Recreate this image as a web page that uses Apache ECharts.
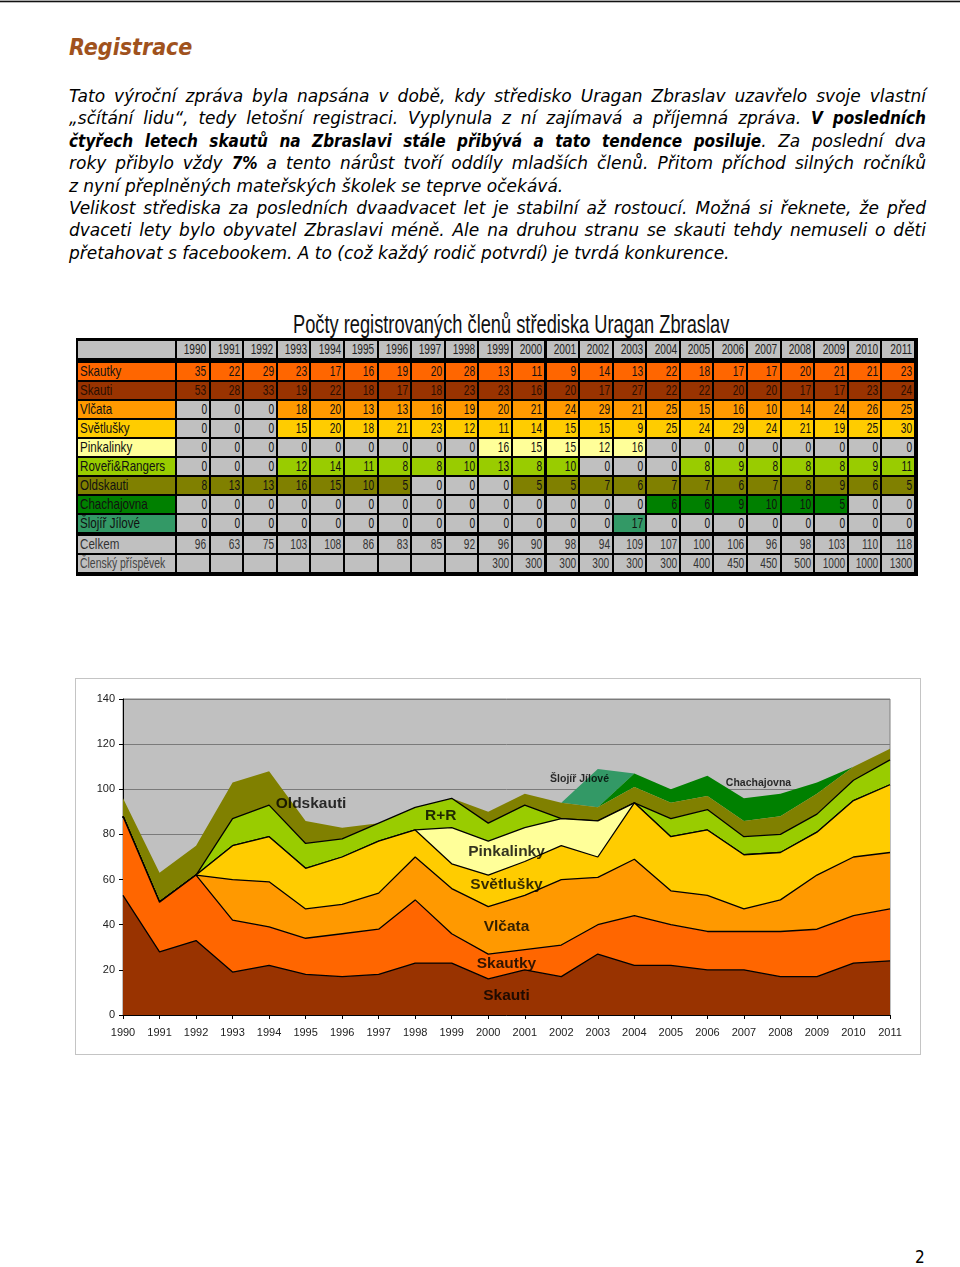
<!DOCTYPE html>
<html><head><meta charset="utf-8">
<script src="https://cdn.jsdelivr.net/npm/echarts@6/dist/echarts.min.js"></script>
<style>
html,body{margin:0;padding:0;}
body{width:960px;height:1267px;position:relative;background:#fff;overflow:hidden;}
.topline{position:absolute;left:0;top:0;width:960px;height:1px;background:#aaa;border-bottom:1px solid #111;}
.topline2{position:absolute;left:0;top:2px;width:960px;height:1px;background:#bbb;}
h1{position:absolute;left:69px;top:31px;margin:0;font:italic bold 23px "DejaVu Sans Condensed","DejaVu Sans",sans-serif;color:#a0521d;line-height:32px;}
.txt{position:absolute;left:69px;top:85px;width:857px;font:italic 17px "DejaVu Sans",sans-serif;color:#000;}
.txt b{font-family:"DejaVu Sans Condensed","DejaVu Sans",sans-serif;font-weight:bold;}
.ln{height:22.4px;line-height:22.4px;text-align:justify;text-align-last:justify;white-space:nowrap;}
.ln.nj{text-align:left;text-align-last:left;}
.ttl{position:absolute;left:293px;top:309px;white-space:nowrap;font:26px/30px "Liberation Sans",Arial,sans-serif;color:#111;transform-origin:0 50%;}
#tbl{position:absolute;left:76px;top:338px;width:842px;height:238px;background:#000;}
#tbl .c{position:absolute;height:17px;font:14.5px/17px "Liberation Sans",Arial,sans-serif;color:#111;overflow:hidden;white-space:nowrap;}
#tbl .c span{display:inline-block;position:absolute;right:2px;top:0;transform:scaleX(0.7);transform-origin:100% 50%;}
#tbl .c.lab span{left:2px;right:auto;transform:scaleX(0.8);transform-origin:0 50%;}
#tbl .c.lab.narrow span{transform:scaleX(0.72);}
#chartbox{position:absolute;left:75px;top:678px;width:846px;height:377px;border:1px solid #c4c4c4;box-sizing:border-box;}
#chart{width:844px;height:375px;}
.pg{position:absolute;left:915px;top:1247px;font:17px "DejaVu Sans Condensed","DejaVu Sans",sans-serif;color:#000;}
</style></head>
<body>
<div class="topline"></div><div class="topline2"></div>
<h1>Registrace</h1>
<div class="txt">
<div class="ln">Tato výroční zpráva byla napsána v době, kdy středisko Uragan Zbraslav uzavřelo svoje vlastní</div>
<div class="ln">„sčítání lidu“, tedy letošní registraci. Vyplynula z ní zajímavá a příjemná zpráva. <b>V posledních</b></div>
<div class="ln"><b>čtyřech letech skautů na Zbraslavi stále přibývá a tato tendence posiluje</b>. Za poslední dva</div>
<div class="ln">roky přibylo vždy <b>7%</b> a tento nárůst tvoří oddíly mladších členů. Přitom příchod silných ročníků</div>
<div class="ln nj">z nyní přeplněných mateřských školek se teprve očekává.</div>
<div class="ln">Velikost střediska za posledních dvaadvacet let je stabilní až rostoucí. Možná si řeknete, že před</div>
<div class="ln">dvaceti lety bylo obyvatel Zbraslavi méně. Ale na druhou stranu se skauti tehdy nemuseli o děti</div>
<div class="ln nj">přetahovat s facebookem. A to (což každý rodič potvrdí) je tvrdá konkurence.</div>
</div>
<div class="ttl" id="ttl">Počty registrovaných členů střediska Uragan Zbraslav</div>
<div id="tbl"></div>
<div id="chartbox"><div id="chart"></div></div>
<div class="pg">2</div>
<script>
// ---- data ----
const years = ['1990','1991','1992','1993','1994','1995','1996','1997','1998','1999','2000','2001','2002','2003','2004','2005','2006','2007','2008','2009','2010','2011'];
const skautky    = [35,22,29,23,17,16,19,20,28,13,11,9,14,13,22,18,17,17,20,21,21,23];
const skauti     = [53,28,33,19,22,18,17,18,23,23,16,20,17,27,22,22,20,20,17,17,23,24];
const vlcata     = [0,0,0,18,20,13,13,16,19,20,21,24,29,21,25,15,16,10,14,24,26,25];
const svetlusky  = [0,0,0,15,20,18,21,23,12,11,14,15,15,9,25,24,29,24,21,19,25,30];
const pinkalinky = [0,0,0,0,0,0,0,0,0,16,15,15,12,16,0,0,0,0,0,0,0,0];
const roveri     = [0,0,0,12,14,11,8,8,10,13,8,10,0,0,0,8,9,8,8,8,9,11];
const oldskauti  = [8,13,13,16,15,10,5,0,0,0,5,5,7,6,7,7,6,7,8,9,6,5];
const chachajovna= [0,0,0,0,0,0,0,0,0,0,0,0,0,0,6,6,9,10,10,5,0,0];
const slojir     = [0,0,0,0,0,0,0,0,0,0,0,0,0,17,0,0,0,0,0,0,0,0];
const celkem     = [96,63,75,103,108,86,83,85,92,96,90,98,94,109,107,100,106,96,98,103,110,118];
const prispevek  = [null,null,null,null,null,null,null,null,null,300,300,300,300,300,300,400,450,450,500,1000,1000,1300];

// chart annotation labels: [text, year, value]
const chartLabels = [
  ['Oldskauti',1995.15,93.5],['R+R',1998.7,88.2],['Pinkalinky',2000.5,72.2],
  ['Světlušky',2000.5,57.6],['Vlčata',2000.5,39],['Skautky',2000.5,22.6],
  ['Skauti',2000.5,8.4],['Šlojíř Jílové',2002.5,104.6],['Chachajovna',2007.4,102.8]
];
const smallLabels = ['Šlojíř Jílové','Chachajovna'];

// ---- styles ----
const C = {skautky:'#ff6600',skauti:'#993300',vlcata:'#ff9900',svetlusky:'#ffcc00',pink:'#ffff99',rr:'#99cc00',old:'#808000',chach:'#008000',sloj:'#339966',gray:'#c0c0c0'};

// title width fit
const ttl = document.getElementById('ttl');
ttl.style.transform = 'scaleX(' + (436 / ttl.scrollWidth) + ')';

// ---- table (layout in px relative to table box) ----
const tbl = document.getElementById('tbl');
const labX = 2, labW = 97, colX0 = 101, colStep = (840 - 101) / 22, colW = colStep - 2;
const rowTops = [3, 24.5, 43.5, 62.5, 81.5, 100.5, 119.5, 138.5, 157.5, 176.5, 197.5, 216.5];
function cell(ri, ci, text, bg, color, extra){
  const d = document.createElement('div');
  d.className = 'c' + (ci < 0 ? ' lab' : '') + (extra ? ' ' + extra : '');
  d.style.top = rowTops[ri] + 'px';
  if (ci < 0) { d.style.left = labX + 'px'; d.style.width = labW + 'px'; }
  else { d.style.left = (colX0 + ci * colStep) + 'px'; d.style.width = colW + 'px'; }
  d.style.background = bg;
  if (color) d.style.color = color;
  const s = document.createElement('span'); s.textContent = text; d.appendChild(s);
  tbl.appendChild(d);
}
cell(0, -1, '', C.gray);
years.forEach((y,i)=>cell(0, i, y, C.gray, '#222'));
const rows = [
  ['Skautky',skautky,C.skautky],['Skauti',skauti,C.skauti],['Vlčata',vlcata,C.vlcata],
  ['Světlušky',svetlusky,C.svetlusky],['Pinkalinky',pinkalinky,C.pink],['Roveři&Rangers',roveri,C.rr],
  ['Oldskauti',oldskauti,C.old],['Chachajovna',chachajovna,C.chach],['Šlojíř Jílové',slojir,C.sloj]
];
rows.forEach(([lab,vals,col],r)=>{
  const tc = lab==='Skauti' ? '#2a0e00' : '#111';
  cell(r+1, -1, lab, col, tc);
  vals.forEach((v,i)=>cell(r+1, i, String(v), v ? col : C.gray, tc));
});
cell(10, -1, 'Celkem', C.gray, '#333');
celkem.forEach((v,i)=>cell(10, i, String(v), C.gray, '#333'));
cell(11, -1, 'Členský příspěvek', C.gray, '#444', 'narrow');
prispevek.forEach((v,i)=>cell(11, i, v==null?'':String(v), C.gray, '#333'));

// ---- chart ----
const stack = [
  ['Skauti',skauti,C.skauti,true],['Skautky',skautky,C.skautky,true],['Vlčata',vlcata,C.vlcata,true],
  ['Světlušky',svetlusky,C.svetlusky,true],['Pinkalinky',pinkalinky,C.pink,true],['R+R',roveri,C.rr,true],
  ['Oldskauti',oldskauti,C.old,false],['Chachajovna',chachajovna,C.chach,false],['Šlojíř Jílové',slojir,C.sloj,false]
];
const chart = echarts.init(document.getElementById('chart'));
const series = stack.map(([name,data,color,line],i)=>({
  name, type:'line', stack:'all', data, symbol:'none', z: 20 - i,
  lineStyle:{color: line ? '#000' : color, width: line ? 1.3 : 0},
  areaStyle:{color, opacity:1},
  itemStyle:{color}
}));
series.push({
  type:'scatter', xAxisIndex:1, yAxisIndex:0, symbolSize:0, z:40,
  data: chartLabels.map(([t,x,y])=>({value:[x,y], name:t,
    label:{fontSize: smallLabels.includes(t) ? 10.5 : 15.5}})),
  label:{show:true, position:'inside', formatter:p=>p.name, color:'#000', fontWeight:'bold',
    fontFamily:'"Liberation Sans",Arial,sans-serif'},
  silent:true
});
chart.setOption({
  animation:false,
  grid:{left:47,right:30,top:20,bottom:39,show:true,backgroundColor:C.gray,borderColor:'#808080',borderWidth:1},
  xAxis:[{type:'category',data:years,boundaryGap:false,
      axisLine:{lineStyle:{color:'#000',width:1}},
      axisTick:{show:true,length:4,lineStyle:{color:'#000'}},
      axisLabel:{color:'#222',fontSize:11,fontFamily:'"Liberation Sans",Arial,sans-serif',margin:12,interval:0},
      splitLine:{show:false}},
    {type:'value',min:1990,max:2011,show:false}],
  yAxis:{type:'value',min:0,max:140,interval:20,
    axisLine:{show:true,lineStyle:{color:'#000',width:1}},
    axisTick:{show:true,length:4,lineStyle:{color:'#000'}},
    axisLabel:{color:'#222',fontSize:11,fontFamily:'"Liberation Sans",Arial,sans-serif',margin:8},
    splitLine:{show:true,lineStyle:{color:'#7a7a7a',width:1}}},
  series
});
</script>
</body></html>
